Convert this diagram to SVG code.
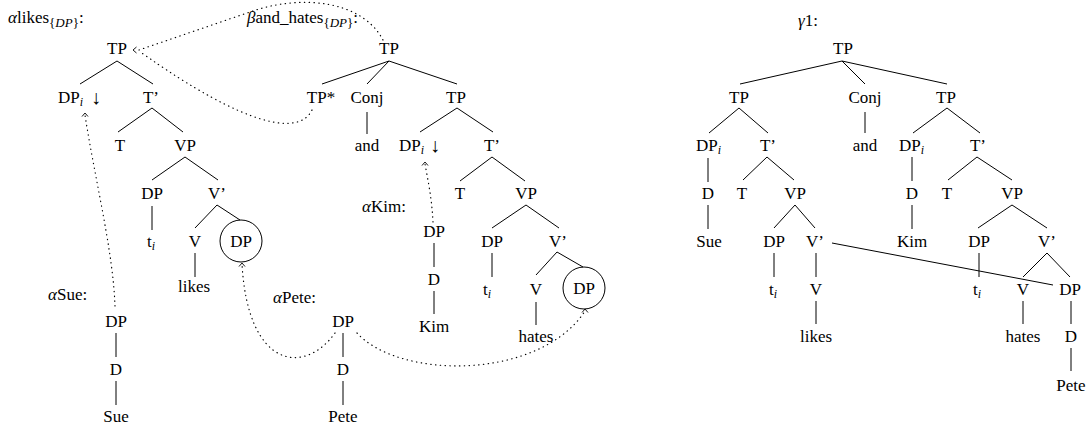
<svg xmlns="http://www.w3.org/2000/svg" width="1089" height="429" viewBox="0 0 1089 429">
<style>
text { font-family: 'Liberation Serif', serif; font-size: 17px; fill: #000; }
.c { text-anchor: middle; }
.sub { font-size: 12px; font-style: italic; }
.lsub { font-size: 13px; }
.it { font-style: italic; }
.e { stroke: #000; stroke-width: 1; fill: none; }
.d { stroke: #000; stroke-width: 1.2; fill: none; stroke-dasharray: 0.4 4.4; stroke-linecap: round; }
.ah { stroke: #000; stroke-width: 0.9; fill: none; }
.circ { stroke: #000; stroke-width: 1; fill: none; }
</style>
<defs>
<path id="chev" d="M-3,3.5 L0,0 L3,3.5"/>
</defs>

<g id="label-alpha-likes"><text x="8" y="23" style="font-family:'Liberation Serif',serif"><tspan class="it">α</tspan>likes<tspan class="lsub" dy="4">{<tspan class="it">DP</tspan>}</tspan><tspan dy="-4">:</tspan></text></g>
<g id="label-beta"><text x="247" y="23" style="font-family:'Liberation Serif',serif"><tspan class="it">β</tspan>and_hates<tspan class="lsub" dy="4">{<tspan class="it">DP</tspan>}</tspan><tspan dy="-4">:</tspan></text></g>
<g id="label-gamma"><text x="798" y="26" style="font-family:'Liberation Serif',serif"><tspan class="it">γ</tspan>1:</text></g>
<g id="label-alpha-sue"><text x="48" y="300" style="font-family:'Liberation Serif',serif"><tspan class="it">α</tspan>Sue:</text></g>
<g id="label-alpha-kim"><text x="362" y="212" style="font-family:'Liberation Serif',serif"><tspan class="it">α</tspan>Kim:</text></g>
<g id="label-alpha-pete"><text x="273" y="303" style="font-family:'Liberation Serif',serif"><tspan class="it">α</tspan>Pete:</text></g>

<g id="a-TP"><text class="c" x="117" y="54" style="font-family:'Liberation Serif',serif">TP</text></g>
<g id="a-DPi"><text x="58" y="103" style="font-family:'Liberation Serif',serif">DP<tspan class="sub" dy="3">i</tspan></text><text x="91" y="104" style="font-family:'Liberation Serif',serif;font-size:20px">↓</text></g>
<g id="a-Tbar"><text class="c" x="151" y="103" style="font-family:'Liberation Serif',serif">T’</text></g>
<g id="a-T"><text class="c" x="120" y="151" style="font-family:'Liberation Serif',serif">T</text></g>
<g id="a-VP"><text class="c" x="185" y="151" style="font-family:'Liberation Serif',serif">VP</text></g>
<g id="a-DP"><text class="c" x="152" y="199" style="font-family:'Liberation Serif',serif">DP</text></g>
<g id="a-Vbar"><text class="c" x="217" y="199" style="font-family:'Liberation Serif',serif">V’</text></g>
<g id="a-ti"><text x="147" y="247" style="font-family:'Liberation Serif',serif">t<tspan class="sub" dy="3">i</tspan></text></g>
<g id="a-V"><text class="c" x="195" y="247" style="font-family:'Liberation Serif',serif">V</text></g>
<g id="a-DPsubst"><circle class="circ" cx="241" cy="241" r="21"/><text class="c" x="241" y="247" style="font-family:'Liberation Serif',serif">DP</text></g>
<g id="a-likes"><text class="c" x="194" y="292" style="font-family:'Liberation Serif',serif">likes</text></g>

<g id="s-DP"><text class="c" x="116" y="327" style="font-family:'Liberation Serif',serif">DP</text></g>
<g id="s-D"><text class="c" x="116" y="375" style="font-family:'Liberation Serif',serif">D</text></g>
<g id="s-Sue"><text class="c" x="116" y="422" style="font-family:'Liberation Serif',serif">Sue</text></g>

<g id="b-TP"><text class="c" x="389" y="54" style="font-family:'Liberation Serif',serif">TP</text></g>
<g id="b-TPstar"><text class="c" x="321" y="103" style="font-family:'Liberation Serif',serif">TP*</text></g>
<g id="b-Conj"><text class="c" x="367" y="103" style="font-family:'Liberation Serif',serif">Conj</text></g>
<g id="b-TP2"><text class="c" x="456" y="103" style="font-family:'Liberation Serif',serif">TP</text></g>
<g id="b-and"><text class="c" x="367" y="151" style="font-family:'Liberation Serif',serif">and</text></g>
<g id="b-DPi"><text x="399" y="151" style="font-family:'Liberation Serif',serif">DP<tspan class="sub" dy="3">i</tspan></text><text x="430" y="152" style="font-family:'Liberation Serif',serif;font-size:20px">↓</text></g>
<g id="b-Tbar"><text class="c" x="492" y="151" style="font-family:'Liberation Serif',serif">T’</text></g>
<g id="b-T"><text class="c" x="460" y="199" style="font-family:'Liberation Serif',serif">T</text></g>
<g id="b-VP"><text class="c" x="526" y="199" style="font-family:'Liberation Serif',serif">VP</text></g>
<g id="b-DP"><text class="c" x="492" y="247" style="font-family:'Liberation Serif',serif">DP</text></g>
<g id="b-Vbar"><text class="c" x="558" y="247" style="font-family:'Liberation Serif',serif">V’</text></g>
<g id="b-ti"><text x="483" y="295" style="font-family:'Liberation Serif',serif">t<tspan class="sub" dy="3">i</tspan></text></g>
<g id="b-V"><text class="c" x="536" y="295" style="font-family:'Liberation Serif',serif">V</text></g>
<g id="b-DPsubst"><circle class="circ" cx="584" cy="288" r="21"/><text class="c" x="584" y="294" style="font-family:'Liberation Serif',serif">DP</text></g>
<g id="b-hates"><text class="c" x="536" y="342" style="font-family:'Liberation Serif',serif">hates</text></g>

<g id="k-DP"><text class="c" x="434" y="237" style="font-family:'Liberation Serif',serif">DP</text></g>
<g id="k-D"><text class="c" x="434" y="285" style="font-family:'Liberation Serif',serif">D</text></g>
<g id="k-Kim"><text class="c" x="434" y="332" style="font-family:'Liberation Serif',serif">Kim</text></g>

<g id="p-DP"><text class="c" x="343" y="327" style="font-family:'Liberation Serif',serif">DP</text></g>
<g id="p-D"><text class="c" x="343" y="375" style="font-family:'Liberation Serif',serif">D</text></g>
<g id="p-Pete"><text class="c" x="343" y="422" style="font-family:'Liberation Serif',serif">Pete</text></g>

<g id="g-TP"><text class="c" x="843" y="54" style="font-family:'Liberation Serif',serif">TP</text></g>
<g id="g-TP1"><text class="c" x="739" y="103" style="font-family:'Liberation Serif',serif">TP</text></g>
<g id="g-Conj"><text class="c" x="865" y="103" style="font-family:'Liberation Serif',serif">Conj</text></g>
<g id="g-TP2"><text class="c" x="946" y="103" style="font-family:'Liberation Serif',serif">TP</text></g>
<g id="g-and"><text class="c" x="865" y="151" style="font-family:'Liberation Serif',serif">and</text></g>
<g id="g-DPi1"><text x="696" y="151" style="font-family:'Liberation Serif',serif">DP<tspan class="sub" dy="3">i</tspan></text></g>
<g id="g-Tbar1"><text class="c" x="768" y="151" style="font-family:'Liberation Serif',serif">T’</text></g>
<g id="g-DPi2"><text x="899" y="151" style="font-family:'Liberation Serif',serif">DP<tspan class="sub" dy="3">i</tspan></text></g>
<g id="g-Tbar2"><text class="c" x="978" y="151" style="font-family:'Liberation Serif',serif">T’</text></g>
<g id="g-D1"><text class="c" x="708" y="199" style="font-family:'Liberation Serif',serif">D</text></g>
<g id="g-T1"><text class="c" x="742" y="199" style="font-family:'Liberation Serif',serif">T</text></g>
<g id="g-VP1"><text class="c" x="795" y="199" style="font-family:'Liberation Serif',serif">VP</text></g>
<g id="g-D2"><text class="c" x="912" y="199" style="font-family:'Liberation Serif',serif">D</text></g>
<g id="g-T2"><text class="c" x="947" y="199" style="font-family:'Liberation Serif',serif">T</text></g>
<g id="g-VP2"><text class="c" x="1012" y="199" style="font-family:'Liberation Serif',serif">VP</text></g>
<g id="g-Sue"><text class="c" x="709" y="247" style="font-family:'Liberation Serif',serif">Sue</text></g>
<g id="g-DP1"><text class="c" x="774" y="247" style="font-family:'Liberation Serif',serif">DP</text></g>
<g id="g-Vbar1"><text class="c" x="815" y="247" style="font-family:'Liberation Serif',serif">V’</text></g>
<g id="g-Kim"><text class="c" x="912" y="247" style="font-family:'Liberation Serif',serif">Kim</text></g>
<g id="g-DP2"><text class="c" x="979" y="247" style="font-family:'Liberation Serif',serif">DP</text></g>
<g id="g-Vbar2"><text class="c" x="1047" y="247" style="font-family:'Liberation Serif',serif">V’</text></g>
<g id="g-ti1"><text x="769" y="295" style="font-family:'Liberation Serif',serif">t<tspan class="sub" dy="3">i</tspan></text></g>
<g id="g-V1"><text class="c" x="816" y="295" style="font-family:'Liberation Serif',serif">V</text></g>
<g id="g-ti2"><text x="973" y="295" style="font-family:'Liberation Serif',serif">t<tspan class="sub" dy="3">i</tspan></text></g>
<g id="g-V2"><text class="c" x="1023" y="295" style="font-family:'Liberation Serif',serif">V</text></g>
<g id="g-DP3"><text class="c" x="1070" y="295" style="font-family:'Liberation Serif',serif">DP</text></g>
<g id="g-likes"><text class="c" x="816" y="342" style="font-family:'Liberation Serif',serif">likes</text></g>
<g id="g-hates"><text class="c" x="1023" y="342" style="font-family:'Liberation Serif',serif">hates</text></g>
<g id="g-D3"><text class="c" x="1071" y="342" style="font-family:'Liberation Serif',serif">D</text></g>
<g id="g-Pete"><text class="c" x="1071" y="391" style="font-family:'Liberation Serif',serif">Pete</text></g>

<g id="connectors">
  <g class="e">
    <line x1="117" y1="61" x2="80" y2="84"/>
    <line x1="117" y1="61" x2="153" y2="84"/>
    <line x1="152" y1="108" x2="118" y2="132"/>
    <line x1="152" y1="108" x2="183" y2="132"/>
    <line x1="185" y1="157" x2="152" y2="180"/>
    <line x1="185" y1="157" x2="218" y2="180"/>
    <line x1="152" y1="206" x2="152" y2="230"/>
    <line x1="217" y1="205" x2="195" y2="228"/>
    <line x1="217" y1="205" x2="240" y2="220"/>
    <line x1="195" y1="253" x2="195" y2="277"/>
    <line x1="116" y1="333" x2="116" y2="357"/>
    <line x1="116" y1="381" x2="116" y2="405"/>
    <line x1="389" y1="61" x2="322" y2="84"/>
    <line x1="389" y1="61" x2="367" y2="84"/>
    <line x1="389" y1="61" x2="457" y2="84"/>
    <line x1="367" y1="112" x2="367" y2="134"/>
    <line x1="457" y1="108" x2="420" y2="132"/>
    <line x1="457" y1="108" x2="493" y2="132"/>
    <line x1="492" y1="157" x2="460" y2="181"/>
    <line x1="492" y1="157" x2="525" y2="181"/>
    <line x1="526" y1="205" x2="492" y2="228"/>
    <line x1="526" y1="205" x2="559" y2="228"/>
    <line x1="492" y1="253" x2="492" y2="277"/>
    <line x1="557" y1="252" x2="536" y2="275"/>
    <line x1="557" y1="252" x2="583" y2="267"/>
    <line x1="536" y1="302" x2="536" y2="325"/>
    <line x1="434" y1="243" x2="434" y2="267"/>
    <line x1="434" y1="291" x2="434" y2="314"/>
    <line x1="343" y1="333" x2="343" y2="357"/>
    <line x1="343" y1="381" x2="343" y2="405"/>
    <line x1="842" y1="61" x2="740" y2="84"/>
    <line x1="842" y1="61" x2="865" y2="84"/>
    <line x1="842" y1="61" x2="947" y2="84"/>
    <line x1="865" y1="112" x2="865" y2="133"/>
    <line x1="739" y1="108" x2="709" y2="133"/>
    <line x1="739" y1="108" x2="768" y2="133"/>
    <line x1="947" y1="108" x2="913" y2="133"/>
    <line x1="947" y1="108" x2="980" y2="133"/>
    <line x1="708" y1="158" x2="708" y2="182"/>
    <line x1="708" y1="205" x2="708" y2="229"/>
    <line x1="767" y1="157" x2="743" y2="180"/>
    <line x1="767" y1="157" x2="794" y2="180"/>
    <line x1="795" y1="205" x2="774" y2="228"/>
    <line x1="795" y1="205" x2="815" y2="228"/>
    <line x1="774" y1="253" x2="774" y2="277"/>
    <line x1="816" y1="253" x2="816" y2="277"/>
    <line x1="816" y1="301" x2="816" y2="324"/>
    <line x1="832" y1="243" x2="1053" y2="285"/>
    <line x1="912" y1="157" x2="912" y2="181"/>
    <line x1="912" y1="205" x2="912" y2="229"/>
    <line x1="977" y1="157" x2="948" y2="180"/>
    <line x1="977" y1="157" x2="1012" y2="180"/>
    <line x1="1012" y1="205" x2="978" y2="228"/>
    <line x1="1012" y1="205" x2="1047" y2="228"/>
    <line x1="979" y1="253" x2="979" y2="277"/>
    <line x1="1047" y1="253" x2="1023" y2="277"/>
    <line x1="1047" y1="253" x2="1070" y2="277"/>
    <line x1="1023" y1="301" x2="1023" y2="324"/>
    <line x1="1071" y1="301" x2="1071" y2="324"/>
    <line x1="1071" y1="348" x2="1071" y2="371"/>
  </g>
  <path class="d" d="M383,40 C362,0 300,-6 250,12 L139,50"/>
  <path class="d" d="M312,110 C300,135 250,130 139,51"/>
  <path class="d" d="M115,306 C113,250 95,180 85,115"/>
  <path class="d" d="M433,222 C432,200 428,180 425,164"/>
  <path class="d" d="M335,333 C305,375 248,370 242,264"/>
  <path class="d" d="M357,333 C400,380 540,380 585,311"/>
  <use href="#chev" class="ah" transform="translate(133,50) rotate(-90)"/>
  <use href="#chev" class="ah" transform="translate(85,113)"/>
  <use href="#chev" class="ah" transform="translate(425,162)"/>
  <use href="#chev" class="ah" transform="translate(242,263)"/>
  <use href="#chev" class="ah" transform="translate(585,309)"/>
</g>
</svg>
